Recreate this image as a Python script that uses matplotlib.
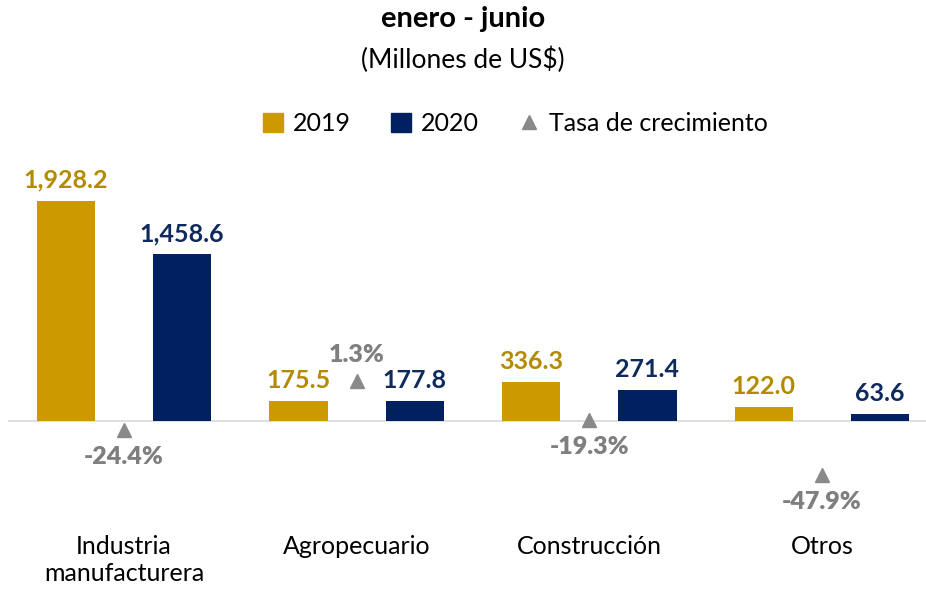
import numpy as np
import matplotlib.pyplot as plt
from matplotlib.lines import Line2D
from matplotlib.patches import Patch

plt.rcParams['font.family'] = ['Lato', 'DejaVu Sans']

#   Data
categories = ['Industria\nmanufacturera', 'Agropecuario', 'Construcción', 'Otros']
v2019 = [1928.2, 175.5, 336.3, 122.0]
v2020 = [1458.6, 177.8, 271.4, 63.6]
growth = [-24.4, 1.3, -19.3, -47.9]

gold = '#CC9900'
navy = '#002060'
grey = '#7F7F7F'

fig = plt.figure(figsize=(9.26, 5.90), dpi=100)
#   plot area in figure fraction (Excel plot area is slightly wider than the figure)
ax = fig.add_axes([0.0083, 0.153, 1.005, 0.576])
ax2 = ax.twinx()

x = np.arange(len(categories))
w = 0.25
ax.bar(x - w, v2019, w, color=gold, zorder=2)
ax.bar(x + w, v2020, w, color=navy, zorder=2)
ax.axhline(0, color='#D9D9D9', lw=1.2, zorder=1)

for xi, a, b in zip(x, v2019, v2020):
    ax.annotate(f'{a:,.1f}', (xi - w, a), xytext=(0, 9), textcoords='offset pixels',
                ha='center', va='bottom', fontsize=18, fontweight='bold', color='#B38A00')
    ax.annotate(f'{b:,.1f}', (xi + w, b), xytext=(0, 9), textcoords='offset pixels',
                ha='center', va='bottom', fontsize=18, fontweight='bold', color='#0F2A5C')

ax2.plot(x, growth, linestyle='none', marker='^', markersize=10, color='#898989', zorder=3)
for xi, g in zip(x, growth):
    off = 15 if g >= 0 else -16
    ax2.annotate(f'{g:.1f}%', (xi, g), xytext=(0, off), textcoords='offset pixels',
                 ha='center', va='bottom' if g >= 0 else 'top',
                 fontsize=18, fontweight='heavy', color=grey)

ax.set_xlim(-0.5, 3.5)
ax.set_ylim(-692, 2287)
ax2.set_ylim(-60.96, 116.95)

for a in (ax, ax2):
    for s in a.spines.values():
        s.set_visible(False)
    a.set_yticks([])
ax.set_xticks([])

#   category labels under the plot
for xi, c in zip(x, categories):
    ax.text(xi, -1000, c, ha='center', va='top', fontsize=18, linespacing=1.2)

fig.text(0.5, 0.968, 'enero - junio', ha='center', va='center', fontsize=21, fontweight='bold')
fig.text(0.5, 0.898, '(Millones de US$)', ha='center', va='center', fontsize=19)

handles = [Patch(color=gold, label='2019'), Patch(color=navy, label='2020'),
           Line2D([], [], linestyle='none', marker='^', markersize=10, color='#898989',
                  label='Tasa de crecimiento')]
fig.legend(handles=handles, loc='center', bbox_to_anchor=(0.557, 0.79), ncol=3, frameon=False,
           fontsize=18, handlelength=0.8, handleheight=0.8, handletextpad=0.4, columnspacing=1.6)

fig.savefig('out.png', dpi=100)
